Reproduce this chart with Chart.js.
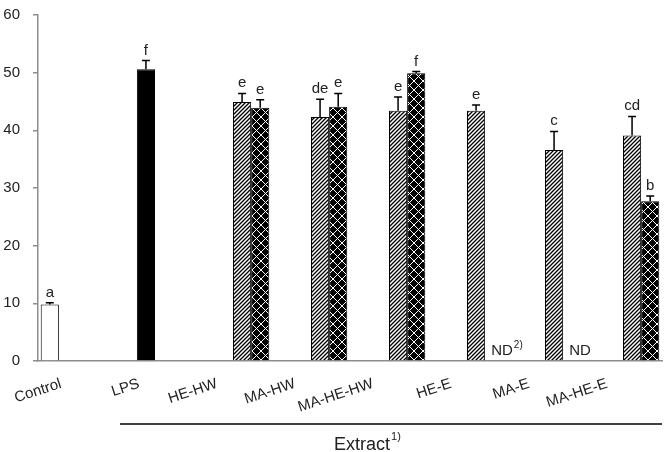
<!DOCTYPE html>
<html lang="en">
<head>
<meta charset="UTF-8">
<title>Extract chart</title>
<script src="https://cdn.jsdelivr.net/npm/chart.js"></script>
<style>
    html, body { margin: 0; padding: 0; background: #fff; }
    .chart-box { width: 664px; height: 452px; position: relative; }
</style>
</head>
<body>
<div class="chart-box"><canvas id="chartCanvas"></canvas></div>
<script>
    // data
    const categories = ['Control', 'LPS', 'HE-HW', 'MA-HW', 'MA-HE-HW', 'HE-E', 'MA-E', 'MA-HE-E'];
    const controlValues = [9.8, null, null, null, null, null, null, null];
    const controlErrors = [0.3, null, null, null, null, null, null, null];
    const controlLetters = ['a', '', '', '', '', '', '', ''];
    const lpsValues = [null, 50.6, null, null, null, null, null, null];
    const lpsErrors = [null, 1.5, null, null, null, null, null, null];
    const lpsLetters = ['', 'f', '', '', '', '', '', ''];
    const hatchValues = [null, null, 44.9, 42.3, 43.4, 43.4, 36.6, 39.1];
    const hatchErrors = [null, null, 1.5, 3.1, 2.4, 1.0, 3.2, 3.3];
    const hatchLetters = ['', '', 'e', 'de', 'e', 'e', 'c', 'cd'];
    const crossValues = [null, null, 43.9, 44.1, 49.9, null, null, 27.7];
    const crossErrors = [null, null, 1.4, 2.3, 0.3, null, null, 0.9];
    const crossLetters = ['', '', 'e', 'e', 'f', '', '', 'b'];
    const ndNotes = ['', '', '', '', '', 'ND', 'ND', ''];
    const ndSup = ['', '', '', '', '', '2)', '', ''];
    const yTicks = [0, 10, 20, 30, 40, 50, 60];

    const FONT = "'Liberation Sans', Arial, sans-serif";

    function hatchPattern() {
        const c = document.createElement('canvas');
        c.width = 4; c.height = 4;
        const g = c.getContext('2d');
        g.fillStyle = '#fff';
        g.fillRect(0, 0, 4, 4);
        g.strokeStyle = '#000';
        g.lineWidth = 1.3;
        g.beginPath();
        g.moveTo(-1, 5); g.lineTo(5, -1);
        g.moveTo(-1, 1); g.lineTo(1, -1);
        g.moveTo(3, 5); g.lineTo(5, 3);
        g.stroke();
        return g.createPattern(c, 'repeat');
    }

    function crossPattern() {
        const c = document.createElement('canvas');
        c.width = 9; c.height = 9;
        const g = c.getContext('2d');
        g.fillStyle = '#000';
        g.fillRect(0, 0, 9, 9);
        g.strokeStyle = '#fff';
        g.lineWidth = 1;
        g.beginPath();
        g.moveTo(0, 0); g.lineTo(9, 9);
        g.moveTo(9, 0); g.lineTo(0, 9);
        g.stroke();
        return g.createPattern(c, 'repeat');
    }

    const errorSets = [controlErrors, lpsErrors, hatchErrors, crossErrors];
    const letterSets = [controlLetters, lpsLetters, hatchLetters, crossLetters];

    // error bars, letters, ND notes, extract bracket
    const extras = {
        id: 'extras',
        afterDatasetsDraw(chart) {
            const ctx = chart.ctx;
            const y = chart.scales.y;
            const x = chart.scales.x;
            ctx.save();
            chart.data.datasets.forEach((ds, i) => {
                const meta = chart.getDatasetMeta(i);
                meta.data.forEach((bar, j) => {
                    const v = ds.data[j];
                    if (v === null) return;
                    const err = errorSets[i][j] || 0;
                    const top = y.getPixelForValue(v + err);
                    ctx.strokeStyle = '#000';
                    ctx.lineWidth = 1.5;
                    ctx.beginPath();
                    ctx.moveTo(bar.x, bar.y);
                    ctx.lineTo(bar.x, top);
                    ctx.moveTo(bar.x - 4, top);
                    ctx.lineTo(bar.x + 4, top);
                    ctx.stroke();
                    ctx.fillStyle = '#222';
                    ctx.font = '15px ' + FONT;
                    ctx.textAlign = 'center';
                    ctx.textBaseline = 'alphabetic';
                    ctx.fillText(letterSets[i][j], bar.x, top - 6);
                });
            });
            // ND notes sit where the missing cross bar would be
            const crossMeta = chart.getDatasetMeta(3);
            ndNotes.forEach((t, j) => {
                if (!t) return;
                const bx = crossMeta.data[j].x - 3;
                ctx.fillStyle = '#222';
                ctx.font = '15px ' + FONT;
                ctx.textAlign = 'left';
                ctx.textBaseline = 'alphabetic';
                ctx.fillText(t, bx, y.bottom - 6);
                if (ndSup[j]) {
                    const w = ctx.measureText(t).width;
                    ctx.font = '10px ' + FONT;
                    ctx.fillText(ndSup[j], bx + w + 1, y.bottom - 13);
                }
            });
            // bracket line under the extract labels
            const lineStart = x.getPixelForValue(1) - (x.getPixelForValue(1) - x.getPixelForValue(0)) / 2 + 4;
            ctx.strokeStyle = '#000';
            ctx.lineWidth = 1.5;
            ctx.beginPath();
            ctx.moveTo(lineStart, 424);
            ctx.lineTo(chart.chartArea.right, 424);
            ctx.stroke();
            ctx.fillStyle = '#222';
            ctx.font = '18px ' + FONT;
            ctx.textAlign = 'left';
            ctx.textBaseline = 'alphabetic';
            const label = 'Extract';
            const w = ctx.measureText(label).width;
            const textLeft = 334;
            ctx.fillText(label, textLeft, 450);
            ctx.font = '11px ' + FONT;
            ctx.fillText('1)', textLeft + w + 1, 440);
            ctx.restore();
        }
    };

    const ctx = document.getElementById('chartCanvas').getContext('2d');
    new Chart(ctx, {
        type: 'bar',
        data: {
            labels: categories,
            datasets: [
                { label: 'Control', data: controlValues, backgroundColor: '#fff', borderColor: '#000', borderWidth: 1 },
                { label: 'LPS', data: lpsValues, backgroundColor: '#000', borderColor: '#000', borderWidth: 1 },
                { label: 'Hatched', data: hatchValues, backgroundColor: hatchPattern(), borderColor: '#000', borderWidth: 1 },
                { label: 'Cross', data: crossValues, backgroundColor: crossPattern(), borderColor: '#000', borderWidth: 1 }
            ]
        },
        options: {
            responsive: true,
            maintainAspectRatio: false,
            animation: false,
            layout: { padding: { top: 15, right: 2, left: 0, bottom: 0 } },
            datasets: { bar: { categoryPercentage: 0.93, barPercentage: 1.0 } },
            plugins: {
                legend: { display: false },
                tooltip: { enabled: false }
            },
            scales: {
                x: {
                    grid: { display: false },
                    border: { display: true, color: '#8c8c8c', width: 1.5 },
                    ticks: {
                        color: '#222',
                        font: { family: FONT, size: 15 },
                        autoSkip: false,
                        minRotation: 18,
                        maxRotation: 18,
                        padding: 6,
                        labelOffset: -16
                    },
                    afterFit(scale) {
                        scale.height = 91;
                        scale.paddingLeft = 0; scale.paddingRight = 0;
                        scale.paddingTop = 0; scale.paddingBottom = 0;
                    }
                },
                y: {
                    min: 0,
                    max: 60,
                    afterBuildTicks(scale) { scale.ticks = yTicks.map(v => ({ value: v })); },
                    grid: { drawOnChartArea: false, tickLength: 5, color: '#8c8c8c', lineWidth: 1.5 },
                    border: { display: true, color: '#8c8c8c', width: 1.5 },
                    ticks: {
                        color: '#222',
                        font: { family: FONT, size: 15 },
                        padding: 13
                    },
                    afterFit(scale) {
                        scale.width = 38;
                        scale.paddingTop = 0; scale.paddingBottom = 0;
                    }
                }
            }
        },
        plugins: [extras]
    });
</script>
</body>
</html>
